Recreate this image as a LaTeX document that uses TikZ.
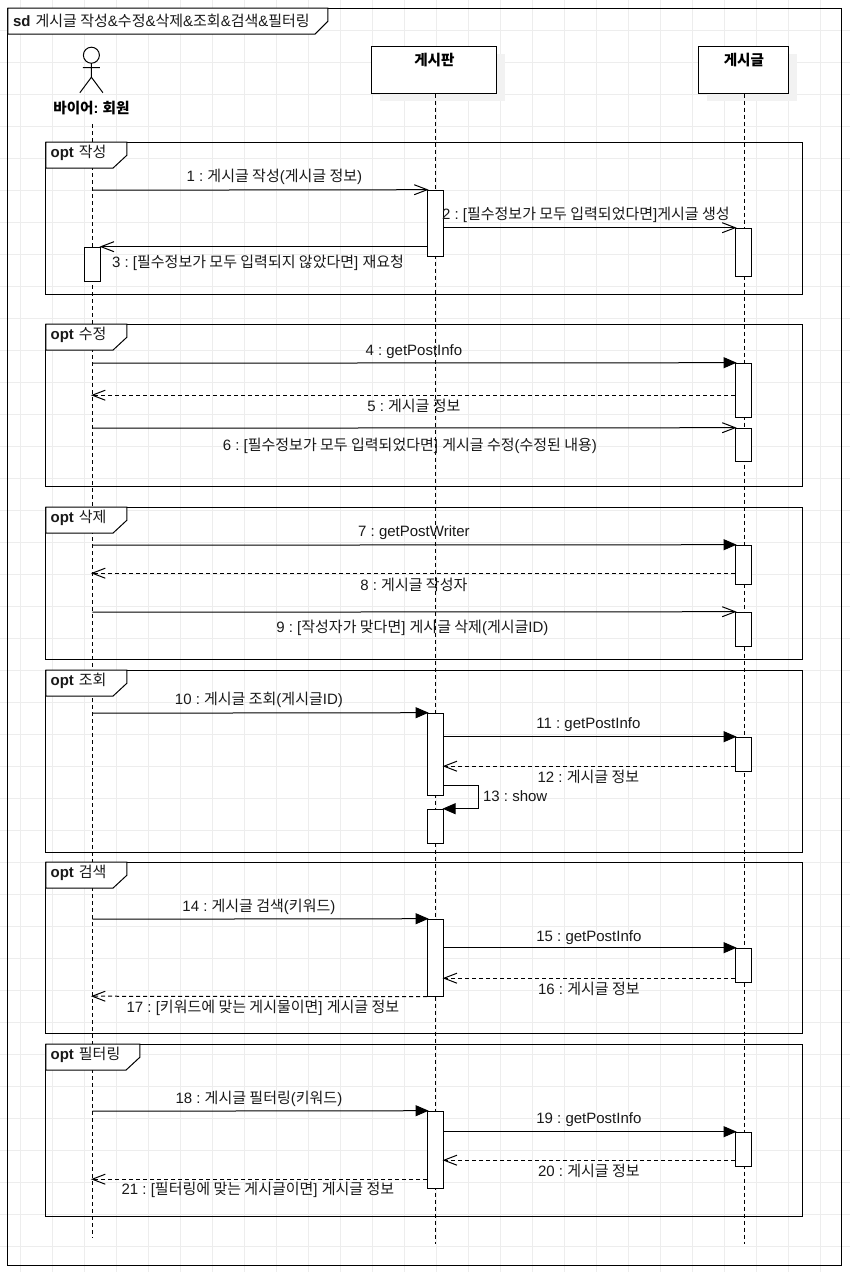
\documentclass[tikz,border=0pt]{standalone}
\usepackage{fontspec}
\setmainfont{Liberation Sans}
\newfontfamily\krfont{Noto Sans CJK KR}
\newcommand{\K}[1]{{\krfont #1}}
\usetikzlibrary{arrows.meta}
\frenchspacing
\tikzset{
  gridline/.style={draw=black!7,line width=0.8pt},
  frameline/.style={draw=black,line width=1pt},
  tabshape/.style={draw=black,fill=white,line width=1pt},
  lifebox/.style={draw=black,fill=white,line width=1pt,inner sep=0pt,minimum height=47pt},
  lifeshadow/.style={fill=black!5,draw=none},
  act/.style={draw=black,fill=white,line width=1pt,inner sep=0pt,minimum width=16pt},
  lifeline/.style={draw=black,line width=0.9pt,dash pattern=on 4pt off 3pt},
  msg/.style={draw=black,line width=1pt,shorten >=-1.5pt,-{Triangle[length=13pt,width=11pt]}},
  amsg/.style={draw=black,line width=1pt,shorten >=-1.5pt,-{Straight Barb[length=13pt,width=10pt,line width=1pt]}},
  rmsg/.style={draw=black,line width=1pt,shorten >=-1.5pt,dash pattern=on 4pt off 3pt,-{Straight Barb[length=13pt,width=10pt,line width=1pt]}},
  lbl/.style={font=\fontsize{15pt}{17pt}\selectfont,inner sep=0pt,text=black!90},
  llbl/.style={lbl,anchor=west},
  bold/.style={font=\fontsize{14.6pt}{16pt}\selectfont\bfseries,inner sep=0pt},
}
\begin{document}
\begin{tikzpicture}[x=1pt,y=-1pt]
\useasboundingbox (0,0) rectangle (850,1272);
\fill[white] (0,0) rectangle (850,1272);
\begin{scope}[shift={(-0.1,0.2)}]
% grid
\foreach \gx in {20,52,...,852} {\draw[gridline] (\gx,-1) -- (\gx,1273);}
\foreach \gy in {30,62,...,1273} {\draw[gridline] (-1,\gy) -- (851,\gy);}
% outer frame
\draw[frameline] (8,8) rectangle (842,1265);
\draw[tabshape] (8,8) -- (328,8) -- (328,21) -- (315,34) -- (8,34) -- cycle;
\node[llbl] (sdtitle) at (13,21) {\textbf{sd}\hspace{5pt}\K{게시글 작성}\&\K{수정}\&\K{삭제}\&\K{조회}\&\K{검색}\&\K{필터링}};
% lifeline heads
\fill[lifeshadow] (380,54) rectangle (505,101);
\fill[lifeshadow] (707,54) rectangle (797,101);
\node[lifebox,minimum width=125pt] (board) at (434.5,69.5) {};
\node[lifebox,minimum width=90pt] (post) at (744,69.5) {};
\node[bold] (boardlbl) at (434.5,60) {\K{게시판}};
\node[bold] (postlbl) at (744,60) {\K{게시글}};
% actor
\draw[line width=1pt,fill=white] (91.5,55) circle (8pt);
\draw[line width=1pt] (91.5,63) -- (91.5,77) (83,67.5) -- (100,67.5) (80,92.5) -- (91.5,77) -- (103,92.5);
\node[bold] (actorlbl) at (91.5,108) {\K{바이어}: \K{회원}};
% lifelines
\coordinate (actortop) at (92.5,124);
\coordinate (actorbot) at (92.5,1238);
\coordinate (boardbot) at (436,1244);
\coordinate (postbot) at (744.5,1244);
\draw[lifeline] (actortop) -- (actorbot);
\draw[lifeline] (board.south -| boardbot) -- (boardbot);
\draw[lifeline] (post.south -| postbot) -- (postbot);
% opt fragments
\newcommand{\optframe}[4]{%
  \draw[frameline] (46,#1) rectangle (803,#2);
  \draw[tabshape] (46,#1) -- (#3,#1) -- (#3,#1+13) -- (#3-14,#1+26) -- (46,#1+26) -- cycle;
  \node[llbl] (tab#1) at (50.5,#1+11) {\textbf{opt}\hspace{5pt}\K{#4}};
}
\optframe{142}{294}{127}{작성}
\optframe{324}{486}{127}{수정}
\optframe{507}{659}{127}{삭제}
\optframe{670}{852}{127}{조회}
\optframe{862}{1033}{127}{검색}
\optframe{1044}{1216}{140}{필터링}
% activations
\newcommand{\activ}[4]{\node[act,minimum height=#4pt-#3pt] (#1) at (#2,{(#3+#4)/2}) {};}
\activ{aa}{435.7}{190}{256}
\activ{ab}{743.7}{228}{276}
\activ{ac}{92.7}{247}{281}
\activ{ad}{743.7}{363}{417}
\activ{ae}{743.7}{428}{461}
\activ{af}{743.7}{545}{584}
\activ{ag}{743.7}{612}{646}
\activ{ah}{435.7}{713}{795}
\activ{ai}{435.7}{809}{843}
\activ{aj}{743.7}{737}{771}
\activ{ak}{435.7}{919}{996}
\activ{al}{743.7}{948}{982}
\activ{am}{435.7}{1111}{1188}
\activ{an}{743.7}{1132}{1166}
% free message ends on the actor lifeline
\foreach \n/\y in {a/190,d/363,e/395,f/428,g/545,h/573,i/612,j/713,k/919,l/996,m/1111,n/1179}
  {\coordinate (act\n) at (92.5,\y);}
% messages
\draw[amsg] (acta) -- (aa.north west);
\draw[amsg] (aa.east |- ab.north) -- (ab.north west);
\draw[amsg] (aa.west |- ac.north) -- (ac.north east);
\draw[msg] (actd) -- (ad.north west);
\draw[rmsg] (ad.west |- acte) -- (acte);
\draw[amsg] (actf) -- (ae.north west);
\draw[msg] (actg) -- (af.north west);
\draw[rmsg] (af.west |- acth) -- (acth);
\draw[amsg] (acti) -- (ag.north west);
\draw[msg] (actj) -- (ah.north west);
\draw[msg] (ah.east |- aj.north) -- (aj.north west);
\coordinate (r12) at (743,766);
\draw[rmsg] (aj.west |- r12) -- (ah.east |- r12);
\coordinate (self) at (479,785);
\draw[msg] (ah.east |- self) -- (self) -- (self |- ai.north) -- (ai.north east);
\draw[msg] (actk) -- (ak.north west);
\draw[msg] (ak.east |- al.north) -- (al.north west);
\coordinate (r16) at (743,978);
\draw[rmsg] (al.west |- r16) -- (ak.east |- r16);
\draw[rmsg] (ak.south west) -- (actl);
\draw[msg] (actm) -- (am.north west);
\draw[msg] (am.east |- an.north) -- (an.north west);
\coordinate (r20) at (743,1160);
\draw[rmsg] (an.west |- r20) -- (am.east |- r20);
\coordinate (r21) at (435,1179);
\draw[rmsg] (am.west |- r21) -- (actn);
% labels
\node[lbl] (t1) at (274.5,176.5) {1 : \K{게시글 작성}(\K{게시글 정보})};
\node[lbl] (t2) at (586,214.5) {2 : [\K{필수정보가 모두 입력되었다면}]\K{게시글 생성}};
\node[llbl] (t3) at (112,262.5) {3 : [\K{필수정보가 모두 입력되지 않았다면}] \K{재요청}};
\node[lbl] (t4) at (414,351.5) {4 : getPostInfo};
\node[lbl] (t5) at (414,405.5) {5 : \K{게시글 정보}};
\node[lbl] (t6) at (410,445.5) {6 : [\K{필수정보가 모두 입력되었다면}] \K{게시글 수정}(\K{수정된 내용})};
\node[lbl] (t7) at (414,532.5) {7 : getPostWriter};
\node[lbl] (t8) at (414,584.5) {8 : \K{게시글 작성자}};
\node[lbl] (t9) at (412.5,627.5) {9 : [\K{작성자가 맞다면}] \K{게시글 삭제}(\K{게시글}ID)};
\node[lbl] (t10) at (259,699.5) {10 : \K{게시글 조회}(\K{게시글}ID)};
\node[lbl] (t11) at (588.5,724.5) {11 : getPostInfo};
\node[lbl] (t12) at (588.5,776.5) {12 : \K{게시글 정보}};
\node[llbl] (t13) at (483,795.5) {13 : show};
\node[lbl] (t14) at (259,906.5) {14 : \K{게시글 검색}(\K{키워드})};
\node[lbl] (t15) at (589,937.5) {15 : getPostInfo};
\node[lbl] (t16) at (589,988.5) {16 : \K{게시글 정보}};
\node[lbl] (t17) at (263,1007.5) {17 : [\K{키워드에 맞는 게시물이면}] \K{게시글 정보}};
\node[lbl] (t18) at (259,1098.5) {18 : \K{게시글 필터링}(\K{키워드})};
\node[lbl] (t19) at (589,1119.5) {19 : getPostInfo};
\node[lbl] (t20) at (589,1170.5) {20 : \K{게시글 정보}};
\node[lbl] (t21) at (258,1189.5) {21 : [\K{필터링에 맞는 게시글이면}] \K{게시글 정보}};
\end{scope}
\end{tikzpicture}
\end{document}
